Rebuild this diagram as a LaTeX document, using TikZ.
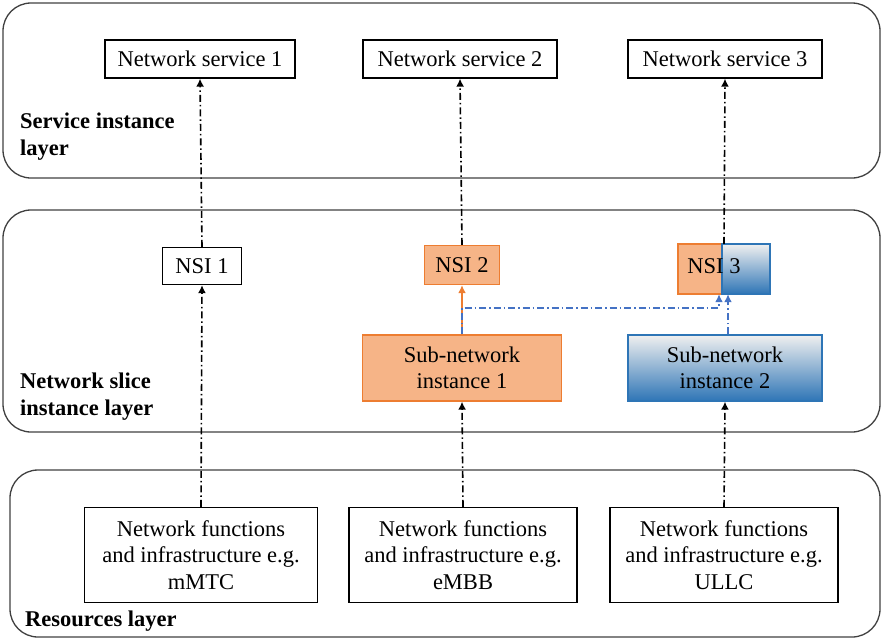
\documentclass[tikz,border=0pt]{standalone}
\usepackage{fontspec}
\setmainfont{Liberation Serif}
\usetikzlibrary{arrows.meta}
\definecolor{orangeline}{RGB}{237,125,49}
\definecolor{orangefill}{RGB}{246,180,135}
\definecolor{blueline}{RGB}{46,117,182}
\definecolor{bluedash}{RGB}{68,114,196}
\newcommand{\bigtext}{\fontsize{22.5}{26.5}\selectfont}
\tikzset{
	layerbox/.style={draw=black!75, line width=1.3pt, rounded corners=28pt},
	plainbox/.style={draw, line width=1.3pt, fill=white, align=center, inner sep=0pt},
	orangebox/.style={draw=orangeline, line width=1.3pt, fill=orangefill, align=center, inner sep=0pt},
	bluebox/.style={draw=blueline, line width=1.3pt, top color=gray!12, bottom color=blueline, align=center, inner sep=0pt},
	dashdot/.style={line width=1.6pt, dash pattern=on 7pt off 3pt on 1.5pt off 3pt, -{Latex[length=8pt,width=8pt]}},
	layertext/.style={font=\bigtext\bfseries, align=left, anchor=north west, inner sep=0pt}
}
\begin{document}
\begin{tikzpicture}[x=1pt,y=-1pt,font=\bigtext]
		\useasboundingbox (0,0) rectangle (883,641);
		%layers
		\draw[layerbox] (3,3) rectangle (880,178);
		\draw[layerbox] (3,210) rectangle (880,432);
		\draw[layerbox] (10,470) rectangle (880,637);
		\node[layertext] (lserv) at (20,113) {Service instance\\layer};
		\node[layertext] (lslice) at (20,373) {Network slice\\instance layer};
		\node[layertext] (lres) at (25,611) {Resources layer};
		%network services
		\node[plainbox, minimum width=190pt, minimum height=38pt] (ns1) at (200,59) {Network service 1};
		\node[plainbox, minimum width=194pt, minimum height=38pt] (ns2) at (460,59) {Network service 2};
		\node[plainbox, minimum width=194pt, minimum height=38pt] (ns3) at (725,59) {Network service 3};
		%slice instances
		\node[plainbox, minimum width=79pt, minimum height=37pt] (nsi1) at (202,266) {NSI 1};
		\node[orangebox, minimum width=75pt, minimum height=39pt] (nsi2) at (462,265) {NSI 2};
		\fill[orangefill] (678,244) rectangle (722,294);
		\draw[orangeline, line width=1.3pt] (722,244) -- (678,244) -- (678,294) -- (722,294);
		\shade[top color=gray!12, bottom color=blueline] (722,244) rectangle (770,294);
		\draw[blueline, line width=1.3pt] (722,244) rectangle (770,294);
		\node[inner sep=0pt, minimum width=92pt, minimum height=50pt] (nsi3) at (724,269) {};
		\node at (714,266) {NSI 3};
		%sub-networks
		\node[orangebox, minimum width=199pt, minimum height=66pt] (sub1) at (462,368) {Sub-network\\instance 1};
		\node[bluebox, minimum width=194pt, minimum height=66pt] (sub2) at (725,368) {Sub-network\\instance 2};
		%resources
		\node[plainbox, minimum width=233pt, minimum height=95pt] (nf1) at (201,555) {Network functions\\and infrastructure e.g.\\mMTC};
		\node[plainbox, minimum width=228pt, minimum height=95pt] (nf2) at (463,555) {Network functions\\and infrastructure e.g.\\eMBB};
		\node[plainbox, minimum width=228pt, minimum height=95pt] (nf3) at (724,555) {Network functions\\and infrastructure e.g.\\ULLC};
		%arrows
		\draw[dashdot] (nf1.north) -- (nsi1.south);
		\draw[dashdot] (nf2.north) -- (sub1.south);
		\draw[dashdot] (nf3.north) -- (sub2.south);
		\draw[dashdot] (nsi1.north) -- (ns1.south);
		\draw[dashdot] (nsi2.north) -- (ns2.south);
		\draw[dashdot] (nsi3.north) -- (ns3.south);
		\draw[orangeline, line width=1.6pt, -{Latex[length=8pt,width=8pt]}] (sub1.north) -- (nsi2.south);
		\coordinate (c1) at (462,308);
		\coordinate (c2) at (719,308);
		\draw[dashdot, bluedash] (sub1.north) -- (c1) -- (c2) -- (c2 |- nsi3.south);
		\draw[dashdot, bluedash] ([xshift=3pt]sub2.north) -- ([xshift=4pt]nsi3.south);
	\end{tikzpicture}
\end{document}
